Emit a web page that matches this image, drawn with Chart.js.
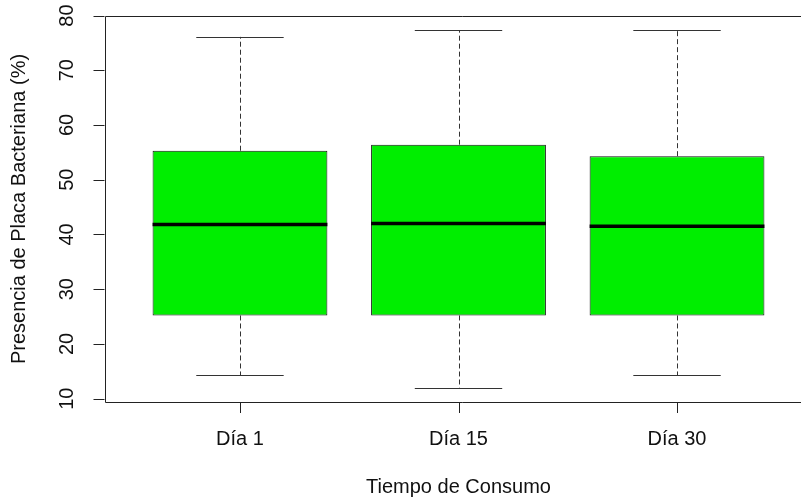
<!DOCTYPE html>
<html>
<head>
<meta charset="utf-8">
<script src="https://cdn.jsdelivr.net/npm/chart.js@4"></script>
<style>
  html, body { margin: 0; padding: 0; background: #fff; overflow: hidden; }
  #wrap { width: 801px; height: 502px; overflow: hidden; position: relative; }
  #wrap canvas { position: absolute; left: 0; top: 0; }
</style>
</head>
<body>
<div id="wrap"><canvas id="boxChart" width="820" height="502"></canvas></div>
<script>
// five-number summaries
const days = ['Día 1', 'Día 15', 'Día 30'];
const lowerWhisker = [14.3, 12.0, 14.3];
const lowerQuartile = [25.2, 25.2, 25.2];
const medians = [41.8, 42.0, 41.5];
const upperQuartile = [55.3, 56.4, 54.3];
const upperWhisker = [76.1, 77.3, 77.3];
const yTicks = [10, 20, 30, 40, 50, 60, 70, 80];

// R-style axis limits: 4% padding
const lo = Math.min(...lowerWhisker), hi = Math.max(...upperWhisker);
const pad = (hi - lo) * 0.04;
const xPad = days.length * 0.04;

const FONT = '20px "Liberation Sans", Arial, sans-serif';
const TICK = 11;

const boxPlotExtras = {
    id: 'boxPlotExtras',
    afterDatasetsDraw(chart) {
        const ctx = chart.ctx;
        const xs = chart.scales.x, ys = chart.scales.y;
        const area = chart.chartArea;
        const snap = v => Math.round(v) + 0.5;

        ctx.save();
        days.forEach((d, i) => {
            const xc = snap(xs.getPixelForValue(i + 1));
            const capL = xs.getPixelForValue(i + 0.8), capR = xs.getPixelForValue(i + 1.2);
            const boxL = xs.getPixelForValue(i + 0.6), boxR = xs.getPixelForValue(i + 1.4);

            // dashed whiskers
            ctx.strokeStyle = '#333';
            ctx.lineWidth = 1;
            ctx.setLineDash([5, 3]);
            ctx.beginPath();
            ctx.moveTo(xc, ys.getPixelForValue(upperQuartile[i]));
            ctx.lineTo(xc, ys.getPixelForValue(upperWhisker[i]));
            ctx.moveTo(xc, ys.getPixelForValue(lowerQuartile[i]));
            ctx.lineTo(xc, ys.getPixelForValue(lowerWhisker[i]));
            ctx.stroke();

            // staples
            ctx.setLineDash([]);
            ctx.beginPath();
            const yTop = snap(ys.getPixelForValue(upperWhisker[i]));
            const yBot = snap(ys.getPixelForValue(lowerWhisker[i]));
            ctx.moveTo(capL, yTop); ctx.lineTo(capR, yTop);
            ctx.moveTo(capL, yBot); ctx.lineTo(capR, yBot);
            ctx.stroke();

            // median
            ctx.strokeStyle = '#000';
            ctx.lineWidth = 3.5;
            ctx.beginPath();
            const ym = ys.getPixelForValue(medians[i]);
            ctx.moveTo(boxL, ym); ctx.lineTo(boxR, ym);
            ctx.stroke();
        });

        // plot frame: right side lies outside the window, so only three sides
        ctx.strokeStyle = '#222';
        ctx.lineWidth = 1;
        const fl = snap(area.left), ft = snap(area.top), fb = snap(area.bottom);
        ctx.beginPath();
        ctx.moveTo(chart.width, ft); ctx.lineTo(fl, ft);
        ctx.lineTo(fl, fb); ctx.lineTo(chart.width, fb);
        ctx.stroke();

        ctx.fillStyle = '#111';
        ctx.font = FONT;

        // y axis ticks + rotated labels
        ctx.beginPath();
        yTicks.forEach(t => {
            const py = snap(ys.getPixelForValue(t));
            ctx.moveTo(area.left - TICK, py);
            ctx.lineTo(area.left, py);
        });
        ctx.stroke();
        yTicks.forEach(t => {
            const py = ys.getPixelForValue(t);
            ctx.save();
            ctx.translate(area.left - 37, py);
            ctx.rotate(-Math.PI / 2);
            ctx.textAlign = 'center';
            ctx.textBaseline = 'middle';
            ctx.fillText(String(t), 0, 0);
            ctx.restore();
        });

        // x axis ticks + labels
        ctx.beginPath();
        days.forEach((d, i) => {
            const px = snap(xs.getPixelForValue(i + 1));
            ctx.moveTo(px, area.bottom);
            ctx.lineTo(px, area.bottom + TICK);
        });
        ctx.stroke();
        ctx.textAlign = 'center';
        ctx.textBaseline = 'middle';
        days.forEach((d, i) => {
            ctx.fillText(d, xs.getPixelForValue(i + 1), area.bottom + 37);
        });

        // axis titles
        ctx.fillText('Tiempo de Consumo', (area.left + area.right) / 2, area.bottom + 85);
        ctx.save();
        ctx.translate(area.left - 85, (area.top + area.bottom) / 2);
        ctx.rotate(-Math.PI / 2);
        ctx.fillText('Presencia de Placa Bacteriana (%)', 0, 0);
        ctx.restore();

        ctx.restore();
    }
};

new Chart(document.getElementById('boxChart').getContext('2d'), {
    type: 'bar',
    data: {
        datasets: [{
            label: 'Presencia de Placa Bacteriana',
            data: days.map((d, i) => ({ x: i + 1, y: [lowerQuartile[i], upperQuartile[i]] })),
            backgroundColor: '#00EE00',
            borderColor: '#111',
            borderWidth: 1,
            borderSkipped: false,
            categoryPercentage: 1,
            barPercentage: 0.8
        }]
    },
    options: {
        responsive: false,
        animation: false,
        layout: { padding: { left: 104.5, top: 16, right: 7.5, bottom: 100 } },
        plugins: {
            legend: { display: false },
            tooltip: { enabled: false }
        },
        scales: {
            x: {
                type: 'linear', display: false, offset: false,
                min: 0.5 - xPad, max: days.length + 0.5 + xPad,
                ticks: { stepSize: 1, includeBounds: false }
            },
            y: { type: 'linear', display: false, min: lo - pad, max: hi + pad }
        }
    },
    plugins: [boxPlotExtras]
});
</script>
</body>
</html>
